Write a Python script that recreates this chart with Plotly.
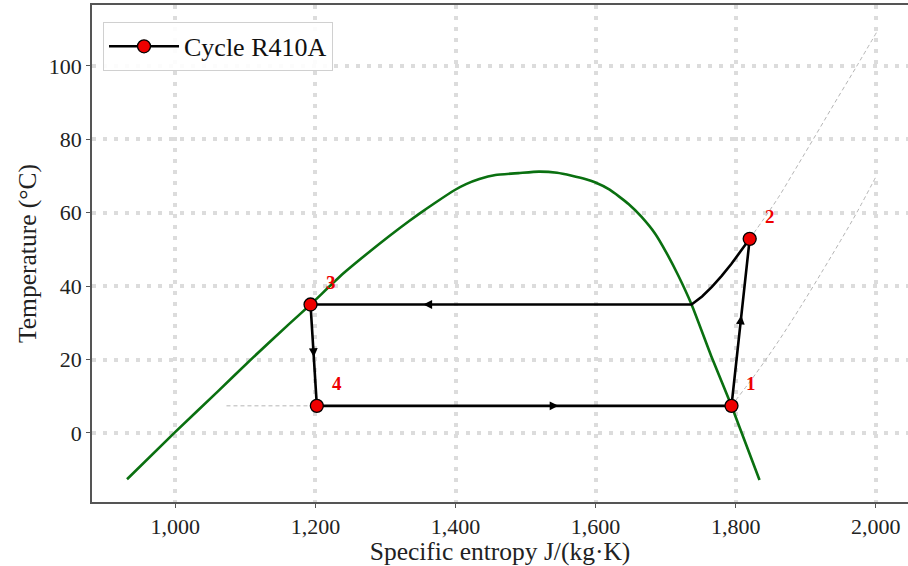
import plotly.graph_objects as go

# Saturation dome of R410A (specific entropy J/(kg·K), temperature °C)
dome_s = [931, 1000, 1060, 1110, 1163, 1193, 1240, 1291, 1320, 1348, 1370, 1399, 1415,
          1434, 1457, 1490, 1519, 1545, 1566, 1585, 1599, 1620, 1647, 1665, 1685, 1700,
          1718, 1737, 1765, 1794, 1807, 1834]
dome_T = [-12.6, 0.3, 11.2, 20.4, 29.8, 35.0, 43.5, 51.5, 55.8, 59.7, 62.6, 66.2, 67.8,
          69.2, 70.3, 70.8, 71.2, 70.9, 70.1, 69.2, 68.3, 66.3, 62.4, 59.0, 54.3, 49.5,
          42.9, 35.0, 21.0, 7.4, 0.8, -12.8]

# Cycle path 1 -> 2 -> (desuperheat) -> 3 -> 4 -> 1
cycle_s = [1794, 1820, 1807, 1794, 1780, 1766, 1752, 1737, 1193, 1202, 1794]
cycle_T = [7.4, 52.9, 49.5, 46.1, 42.8, 39.8, 37.2, 35.0, 35.0, 7.4, 7.4]

# State points
state_s = [1794, 1820, 1193, 1202]
state_T = [7.4, 52.9, 35.0, 7.4]
state_labels = ["1", "2", "3", "4"]

# Isobar extensions (dashed)
low_iso_s = [1794, 1830, 1861, 1893, 1925, 1950, 1973, 2001]
low_iso_T = [7.4, 16.5, 25.0, 34.5, 44.5, 52.5, 60.1, 70.1]
high_iso_s = [1820, 1840, 1861, 1885, 1910, 1940, 1973, 2001]
high_iso_T = [52.9, 58.3, 64.2, 71.8, 79.8, 89.5, 100.0, 109.1]
liq_iso_s = [1073, 1202]
liq_iso_T = [7.4, 7.4]

# Flow-direction arrows: (tip_s, tip_T, tail_s, tail_T)
arrow_tip_s = [1808, 1354, 1197.7, 1547]
arrow_tip_T = [32.0, 35.0, 20.7, 7.4]
arrow_tail_s = [1806.3, 1364, 1197.0, 1537]
arrow_tail_T = [29.0, 35.0, 23.0, 7.4]

x_ticks = [1000, 1200, 1400, 1600, 1800, 2000]
y_ticks = [0, 20, 40, 60, 80, 100]

FONT = "Liberation Serif"
dash_gray = "#b5b5b5"

fig = go.Figure()

fig.add_trace(go.Scatter(x=liq_iso_s, y=liq_iso_T, mode="lines",
                         line=dict(color=dash_gray, width=1, dash="4px,3px"),
                         showlegend=False, hoverinfo="skip"))
fig.add_trace(go.Scatter(x=low_iso_s, y=low_iso_T, mode="lines",
                         line=dict(color=dash_gray, width=1, dash="4px,3px", shape="spline"),
                         showlegend=False, hoverinfo="skip"))
fig.add_trace(go.Scatter(x=high_iso_s, y=high_iso_T, mode="lines",
                         line=dict(color=dash_gray, width=1, dash="4px,3px", shape="spline"),
                         showlegend=False, hoverinfo="skip"))

fig.add_trace(go.Scatter(x=dome_s, y=dome_T, mode="lines",
                         line=dict(color="#0a7010", width=2.6, shape="spline", smoothing=0.5),
                         showlegend=False))

fig.add_trace(go.Scatter(x=cycle_s, y=cycle_T, mode="lines",
                         line=dict(color="black", width=2.6),
                         showlegend=False))

fig.add_trace(go.Scatter(x=state_s, y=state_T, mode="markers",
                         marker=dict(color="#ee0000", size=13, line=dict(color="black", width=1.3)),
                         showlegend=False))

# legend entry
fig.add_trace(go.Scatter(x=[None], y=[None], mode="lines+markers", name="Cycle R410A",
                         line=dict(color="black", width=2.6),
                         marker=dict(color="#ee0000", size=13, line=dict(color="black", width=1.3))))

for s, t, lab in zip(state_s, state_T, state_labels):
    fig.add_annotation(x=s, y=t, text="<b>" + lab + "</b>", showarrow=False,
                       xshift=20, yshift=22,
                       font=dict(family=FONT, size=19, color="#ee0000"))

for xs, ys, xt, yt in zip(arrow_tip_s, arrow_tip_T, arrow_tail_s, arrow_tail_T):
    fig.add_annotation(x=xs, y=ys, ax=xt, ay=yt, xref="x", yref="y",
                       axref="x", ayref="y", text="", showarrow=True,
                       arrowhead=2, arrowsize=1.1, arrowwidth=1.6, arrowcolor="black",
                       standoff=0, startstandoff=0)

axis_common = dict(
    showgrid=True, gridcolor="#dcdcdc", gridwidth=3.5, griddash="4px,7px",
    zeroline=False, showline=True, linecolor="#555555", linewidth=1.8,
    ticks="outside", ticklen=4, tickcolor="#555555", tickwidth=1,
    tickfont=dict(family=FONT, size=22, color="#222222"),
)

fig.update_xaxes(range=[881, 2046], tickvals=x_ticks, tickformat=",d",
                 mirror=True,
                 title=dict(text="Specific entropy J/(kg·K)",
                            font=dict(family=FONT, size=25.5, color="#222222"), standoff=7),
                 **axis_common)
fig.update_yaxes(range=[-18.8, 116.6], tickvals=y_ticks,
                 title=dict(text="Temperature (°C)",
                            font=dict(family=FONT, size=25.5, color="#222222"), standoff=5),
                 **axis_common)

fig.update_layout(
    width=908, height=566,
    margin=dict(l=92, r=0, t=5, b=64),
    plot_bgcolor="white", paper_bgcolor="white",
    font=dict(family=FONT),
    legend=dict(x=0.0135, y=0.966, xanchor="left", yanchor="top",
                bgcolor="rgba(255,255,255,0.9)", bordercolor="#d0d0d0", borderwidth=1,
                font=dict(family=FONT, size=26, color="#111111"),
                itemwidth=70),
    showlegend=True,
)

fig.write_html("out.html")
